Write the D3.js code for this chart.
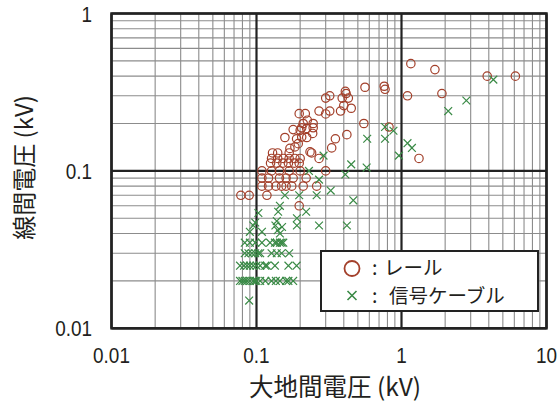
<!DOCTYPE html>
<html><head><meta charset="utf-8">
<script src="https://cdn.jsdelivr.net/npm/d3@7"></script>
<style>body{margin:0;background:#fff}svg{display:block}</style>
</head><body>
<svg id="c" width="559" height="403"></svg>
<script>
// x: 大地間電圧 (kV), y: 線間電圧 (kV)
const rail = [
[1.16,0.48],[1.7,0.44],[3.9,0.40],[6.1,0.40],[1.1,0.30],[1.9,0.31],[0.56,0.34],[0.76,0.345],[0.77,0.33],[1.32,0.12],[0.82,0.19],
[0.41,0.32],[0.415,0.31],[0.39,0.29],[0.43,0.29],[0.40,0.26],[0.45,0.25],[0.38,0.24],[0.55,0.20],[0.42,0.17],[0.35,0.16],[0.33,0.14],
[0.30,0.29],[0.32,0.30],[0.27,0.24],[0.30,0.23],[0.32,0.24],
[0.24,0.13],[0.27,0.12],[0.30,0.10],
[0.197,0.231],[0.217,0.231],[0.224,0.21],[0.21,0.20],[0.246,0.20],[0.246,0.188],[0.222,0.186],[0.205,0.188],[0.244,0.173],[0.222,0.163],[0.205,0.164],
[0.179,0.183],[0.20,0.181],[0.157,0.163],[0.189,0.160],[0.194,0.149],[0.184,0.142],[0.234,0.132],[0.170,0.139],[0.168,0.130],[0.129,0.130],[0.14,0.130],
[0.127,0.12],[0.14,0.12],[0.153,0.12],[0.168,0.12],[0.184,0.12],[0.20,0.12],
[0.125,0.112],[0.138,0.112],[0.152,0.112],[0.166,0.112],[0.182,0.112],[0.197,0.112],
[0.109,0.10],[0.127,0.10],[0.144,0.10],[0.168,0.10],[0.20,0.10],
[0.109,0.09],[0.121,0.09],[0.144,0.09],[0.160,0.09],[0.179,0.09],[0.22,0.09],
[0.109,0.08],[0.121,0.08],[0.136,0.08],[0.149,0.08],[0.160,0.08],[0.175,0.08],[0.21,0.08],[0.26,0.08],
[0.078,0.07],[0.089,0.07],[0.118,0.07],[0.197,0.06]
];
const cable = [
[4.3,0.38],[2.8,0.28],[2.1,0.24],[0.77,0.19],[0.88,0.18],[0.77,0.16],[0.58,0.16],[1.1,0.15],[1.18,0.14],[0.96,0.125],[0.29,0.125],[0.45,0.11],[0.575,0.105],[0.41,0.095],[0.23,0.10],[0.27,0.088],[0.325,0.075],[0.26,0.07],[0.465,0.065],[0.22,0.055],[0.27,0.045],[0.42,0.045],
[0.157,0.07],[0.197,0.07],[0.145,0.06],[0.103,0.054],[0.141,0.055],[0.19,0.05],[0.098,0.047],[0.138,0.048],[0.095,0.045],[0.19,0.045],[0.135,0.045],[0.15,0.044],[0.14,0.042],[0.145,0.040],[0.09,0.041],[0.109,0.041],
[0.083,0.035],[0.09,0.035],[0.098,0.035],[0.109,0.035],[0.124,0.035],[0.134,0.035],[0.138,0.035],[0.145,0.035],[0.149,0.035],[0.153,0.035],
[0.083,0.030],[0.088,0.030],[0.093,0.030],[0.098,0.030],[0.103,0.030],[0.106,0.030],[0.127,0.030],[0.138,0.030],[0.149,0.030],[0.168,0.030],
[0.077,0.025],[0.082,0.025],[0.086,0.025],[0.09,0.025],[0.095,0.025],[0.10,0.025],[0.106,0.025],[0.115,0.025],[0.118,0.025],[0.134,0.025],[0.166,0.025],[0.189,0.025],
[0.077,0.020],[0.08,0.020],[0.083,0.020],[0.086,0.020],[0.09,0.020],[0.095,0.020],[0.098,0.020],[0.10,0.020],[0.106,0.020],[0.115,0.020],[0.127,0.020],[0.136,0.020],[0.145,0.020],[0.16,0.020],[0.166,0.020],[0.179,0.020],
[0.089,0.015]
];
const xTicks = [0.01, 0.1, 1, 10];
const xTickLabels = ["0.01", "0.1", "1", "10"];
const yTicks = [0.01, 0.1, 1];
const yTickLabels = ["0.01", "0.1", "1"];
const seriesNames = ["レール", "信号ケーブル"];
const xTitle = "大地間電圧 (kV)";
const yTitle = "線間電圧 (kV)";

const railColor = "#a3402b", cableColor = "#3a8a46";
const svg = d3.select("#c");
const L = 111.5, R = 546.5, T = 13.5, B = 328.3;
const x = d3.scaleLog().domain([0.01, 10]).range([L, R]);
const y = d3.scaleLog().domain([0.01, 1]).range([B, T]);

// minor grid
const minorX = [], minorY = [];
[0.01, 0.1, 1].forEach(d => { for (let k = 2; k <= 9; k++) minorX.push(d * k); });
[0.01, 0.1].forEach(d => { for (let k = 2; k <= 9; k++) minorY.push(d * k); });
const g = svg.append("g");
g.selectAll(".mx").data(minorX).join("line")
  .attr("x1", d => x(d)).attr("x2", d => x(d)).attr("y1", T).attr("y2", B)
  .attr("stroke", "#8c8c8c").attr("stroke-width", 1.1);
g.selectAll(".my").data(minorY).join("line")
  .attr("y1", d => y(d)).attr("y2", d => y(d)).attr("x1", L).attr("x2", R)
  .attr("stroke", "#8c8c8c").attr("stroke-width", 1.1);
g.selectAll(".Mx").data(xTicks).join("line")
  .attr("x1", d => x(d)).attr("x2", d => x(d)).attr("y1", T).attr("y2", B)
  .attr("stroke", "#222").attr("stroke-width", 2.2);
g.selectAll(".My").data(yTicks).join("line")
  .attr("y1", d => y(d)).attr("y2", d => y(d)).attr("x1", L).attr("x2", R)
  .attr("stroke", "#222").attr("stroke-width", 2.2);

// points
svg.append("g").selectAll("circle").data(rail).join("circle")
  .attr("cx", d => x(d[0])).attr("cy", d => y(d[1])).attr("r", 4.2)
  .attr("fill", "none").attr("stroke", railColor).attr("stroke-width", 1.2);
const cs = 3.9;
const crossPath = (cx, cy, s) => `M${cx - s},${cy - s}L${cx + s},${cy + s}M${cx - s},${cy + s}L${cx + s},${cy - s}`;
svg.append("g").selectAll("path").data(cable).join("path")
  .attr("d", d => crossPath(x(d[0]), y(d[1]), cs))
  .attr("fill", "none").attr("stroke", cableColor).attr("stroke-width", 1.2);

// frame
svg.append("rect").attr("x", L).attr("y", T).attr("width", R - L).attr("height", B - T)
  .attr("fill", "none").attr("stroke", "#222").attr("stroke-width", 2.5);

// tick labels (narrow, tall sans)
const tf = "'Liberation Sans', Arial, sans-serif";
function label(px, py, s, size, anchor, sx) {
  svg.append("g").attr("transform", `translate(${px},${py}) scale(${sx},1)`)
    .append("text").attr("text-anchor", anchor).attr("font-family", tf)
    .attr("font-size", size).attr("fill", "#231f20").text(s);
}
xTicks.forEach((t, i) => label(x(t), 363, xTickLabels[i], 22, "middle", 0.86));
yTicks.forEach((t, i) => label(92, y(t) + 8, yTickLabels[i], 22, "end", 0.86));

// axis titles
const jf = "'Noto Sans CJK JP', sans-serif";
svg.append("text").attr("x", 335).attr("y", 396).attr("text-anchor", "middle")
  .attr("font-family", jf).attr("font-size", 24.5).attr("fill", "#231f20").text(xTitle);
svg.append("text").attr("transform", "translate(33,167.5) rotate(-90)").attr("text-anchor", "middle")
  .attr("font-family", jf).attr("font-size", 24).attr("fill", "#231f20").text(yTitle);

// legend
const lg = svg.append("g");
lg.append("rect").attr("x", 321).attr("y", 251).attr("width", 217).attr("height", 60)
  .attr("fill", "#fff").attr("stroke", "#222").attr("stroke-width", 2);
lg.append("circle").attr("cx", 352).attr("cy", 268.5).attr("r", 7.5)
  .attr("fill", "none").attr("stroke", railColor).attr("stroke-width", 1.8);
lg.append("path").attr("d", crossPath(352, 295.5, 4.5))
  .attr("fill", "none").attr("stroke", cableColor).attr("stroke-width", 1.6);
[[268, 384, seriesNames[0]], [296, 389, seriesNames[1]]].forEach(r => {
  const t = lg.append("text").attr("y", r[0] + 7)
    .attr("font-family", jf).attr("font-size", 19.5).attr("fill", "#231f20");
  t.append("tspan").attr("x", 372).text(":");
  t.append("tspan").attr("x", r[1]).text(r[2]);
});
</script>
</body></html>
